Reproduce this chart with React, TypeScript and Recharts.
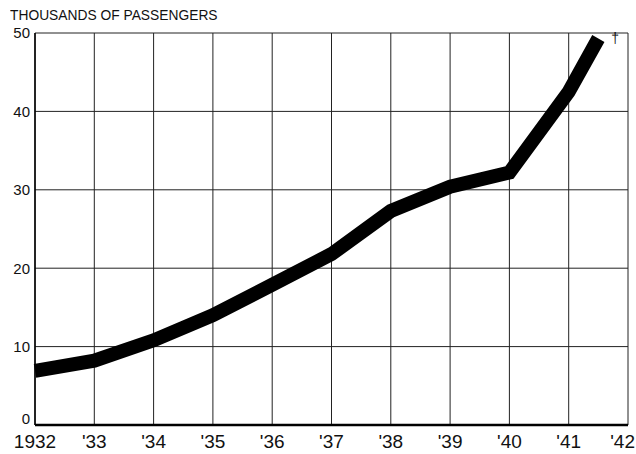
import {
  LineChart,
  Line,
  XAxis,
  YAxis,
  CartesianGrid,
  ReferenceDot
} from "recharts";

const years = [1932, 1933, 1934, 1935, 1936, 1937, 1938, 1939, 1940, 1941, 1941.5];
const passengers = [6.9, 8.2, 10.8, 14.0, 17.9, 21.8, 27.3, 30.4, 32.2, 42.5, 49.3];

const xTicks = [1932, 1933, 1934, 1935, 1936, 1937, 1938, 1939, 1940, 1941, 1942];
const xTickLabels = ["1932", "'33", "'34", "'35", "'36", "'37", "'38", "'39", "'40", "'41", "'42"];
const yTicks = [0, 10, 20, 30, 40, 50];

const FONT = "'Liberation Sans', Arial, sans-serif";
const CHART_W = 636;

const chartData = years.map((year, i) => ({
  year,
  passengers: passengers[i]
}));

function YTick(props: any) {
  const { x, y, payload } = props;
  // the zero label sits a little above its line in the original
  const shift = payload.value === 0 ? -6 : 0;
  return (
    <text
      x={x}
      y={y + shift}
      dy="0.355em"
      textAnchor="end"
      fontSize={15}
      fontFamily={FONT}
      fill="#111"
    >
      {payload.value}
    </text>
  );
}

function XTick(props: any) {
  const { x, y, payload } = props;
  const label = xTickLabels[xTicks.indexOf(payload.value)];
  // keep the last label inside the picture
  const isLast = payload.value === xTicks[xTicks.length - 1];
  return (
    <text
      x={isLast ? CHART_W - 1 : x}
      y={y}
      dy="0.71em"
      textAnchor={isLast ? "end" : "middle"}
      fontSize={19}
      fontFamily={FONT}
      fill="#111"
    >
      {label}
    </text>
  );
}

export default function App() {
  const last = chartData[chartData.length - 1];

  return (
    <div style={{ position: "absolute", left: 0, top: 0, width: CHART_W, height: 454, background: "#fff" }}>

      <div
        style={{
          position: "absolute",
          left: 10,
          top: 6,
          fontFamily: FONT,
          fontSize: 15,
          color: "#111",
          whiteSpace: "nowrap",
          transform: "scaleX(0.92)",
          transformOrigin: "left top"
        }}
      >
        THOUSANDS OF PASSENGERS
      </div>

      <LineChart
        width={CHART_W}
        height={454}
        data={chartData}
        margin={{ top: 33, right: 8, left: 0, bottom: 0 }}
      >

        <CartesianGrid stroke="#222" strokeWidth={1} />

        <XAxis
          dataKey="year"
          type="number"
          domain={[1932, 1942]}
          ticks={xTicks}
          height={29}
          tickLine={false}
          tickSize={0}
          tickMargin={10}
          axisLine={{ stroke: "#000", strokeWidth: 2.5 }}
          tick={<XTick />}
          interval={0}
        />

        <YAxis
          type="number"
          domain={[0, 50]}
          ticks={yTicks}
          width={35}
          tickLine={false}
          tickSize={0}
          tickMargin={5}
          axisLine={{ stroke: "#000", strokeWidth: 1.5 }}
          tick={<YTick />}
          interval={0}
        />

        <Line
          type="linear"
          dataKey="passengers"
          stroke="#000"
          strokeWidth={14}
          strokeLinecap="butt"
          dot={false}
          activeDot={false}
          isAnimationActive={false}
        />

        <ReferenceDot
          x={last.year}
          y={last.passengers}
          r={1}
          fill="none"
          stroke="none"
          label={(p: any) => (
            <text
              x={p.viewBox.x + 14}
              y={p.viewBox.y + 6}
              fontSize={14}
              fontFamily={FONT}
              fill="#111"
            >
              †
            </text>
          )}
        />

      </LineChart>

    </div>
  );
}
